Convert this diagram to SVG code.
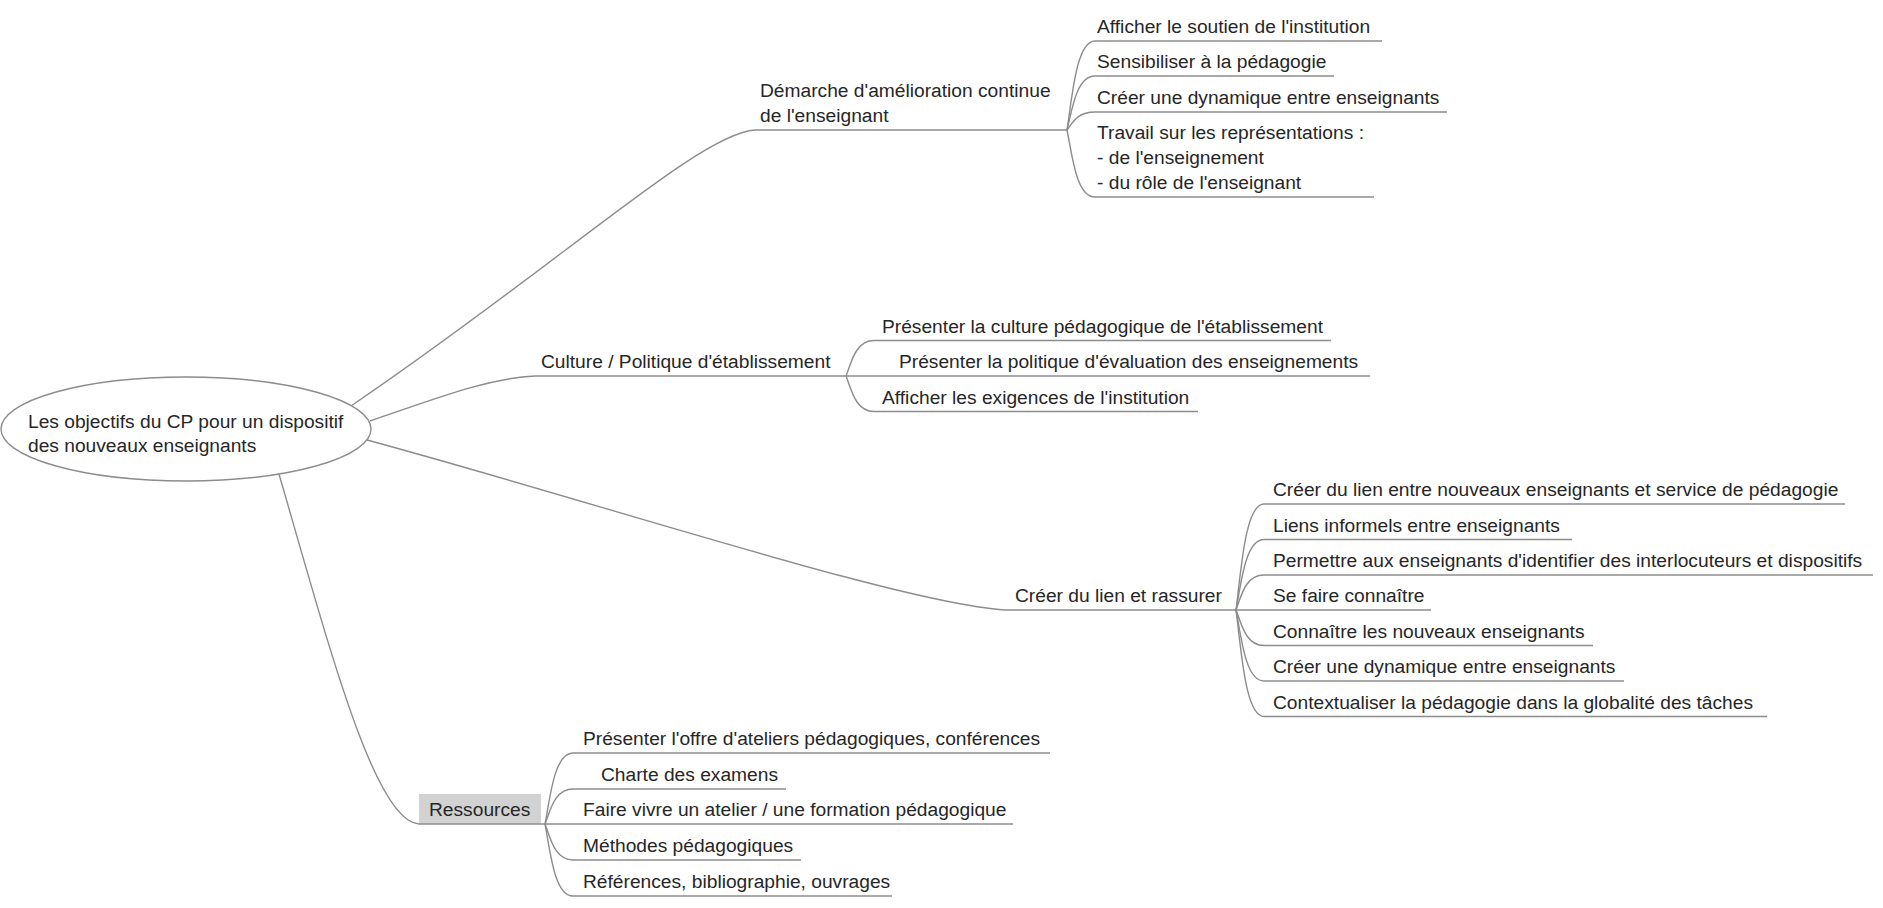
<svg xmlns="http://www.w3.org/2000/svg" width="1883" height="908" viewBox="0 0 1883 908">
<style>
.t{font-family:"Liberation Sans",Arial,sans-serif;font-size:19.2px;fill:#262626}
.c{fill:none;stroke:#8c8c8c;stroke-width:1.4}
.u{stroke:#8c8c8c;stroke-width:1.4}
</style>
<rect width="1883" height="908" fill="#ffffff"/>
<g id="connectors">
<path class="c" d="M351,406 C560,264 700,133 755,130"/>
<path class="c" d="M370,421 C440,397 490,378 535,376"/>
<path class="c" d="M367,440 C600,503 900,603 1005,610"/>
<path class="c" d="M279,474 C330,650 375,822 419,824"/>
<path class="c" d="M1067,130 C1072,99 1076,41 1095,41"/>
<path class="c" d="M1067,130 C1072,111 1076,76 1095,76"/>
<path class="c" d="M1067,130 C1072,124 1076,112 1095,112"/>
<path class="c" d="M1067,130 C1072,154 1076,197 1095,197"/>
<path class="c" d="M846,376 C851,364 855,340.5 874,340.5"/>
<path class="c" d="M846,376 C851,388 855,411.5 874,411.5"/>
<path class="c" d="M1236,610 C1241,572 1245,504 1264,504"/>
<path class="c" d="M1236,610 C1241,585 1245,539.5 1264,539.5"/>
<path class="c" d="M1236,610 C1241,597 1245,575 1264,575"/>
<path class="c" d="M1236,610 C1241,622 1245,645.5 1264,645.5"/>
<path class="c" d="M1236,610 C1241,635 1245,681 1264,681"/>
<path class="c" d="M1236,610 C1241,647 1245,716.5 1264,716.5"/>
<path class="c" d="M545,824 C550,799 554,753 573,753"/>
<path class="c" d="M545,824 C550,812 554,789 573,789"/>
<path class="c" d="M545,824 C550,836 554,860 573,860"/>
<path class="c" d="M545,824 C550,849 554,896 573,896"/>
</g>
<g id="root">
<ellipse cx="186" cy="429" rx="185" ry="52" fill="#ffffff" stroke="#8c8c8c" stroke-width="1.4"/>
<text class="t" x="28" y="428">Les objectifs du CP pour un dispositif</text>
<text class="t" x="28" y="452">des nouveaux enseignants</text>
</g>
<g id="n-demarche">
<line class="u" x1="755" y1="130" x2="1067" y2="130"/>
<text class="t" x="760" y="97">Démarche d'amélioration continue</text>
<text class="t" x="760" y="122">de l'enseignant</text>
</g>
<g id="n-d1"><line class="u" x1="1095" y1="41" x2="1382" y2="41"/><text class="t" x="1097" y="33">Afficher le soutien de l'institution</text></g>
<g id="n-d2"><line class="u" x1="1095" y1="76" x2="1334" y2="76"/><text class="t" x="1097" y="68">Sensibiliser à la pédagogie</text></g>
<g id="n-d3"><line class="u" x1="1095" y1="112" x2="1447" y2="112"/><text class="t" x="1097" y="104">Créer une dynamique entre enseignants</text></g>
<g id="n-d4"><line class="u" x1="1095" y1="197" x2="1374" y2="197"/>
<text class="t" x="1097" y="139">Travail sur les représentations :</text>
<text class="t" x="1097" y="164">- de l'enseignement</text>
<text class="t" x="1097" y="189">- du rôle de l'enseignant</text></g>
<g id="n-culture">
<line class="u" x1="535" y1="376" x2="846" y2="376"/>
<text class="t" x="541" y="368">Culture / Politique d'établissement</text>
</g>
<g id="n-c1"><line class="u" x1="874" y1="340.5" x2="1331" y2="340.5"/><text class="t" x="882" y="332.5">Présenter la culture pédagogique de l'établissement</text></g>
<g id="n-c2"><line class="u" x1="846" y1="376" x2="1370" y2="376"/><text class="t" x="899" y="368">Présenter la politique d'évaluation des enseignements</text></g>
<g id="n-c3"><line class="u" x1="874" y1="411.5" x2="1198" y2="411.5"/><text class="t" x="882" y="403.5">Afficher les exigences de l'institution</text></g>
<g id="n-lien">
<line class="u" x1="1005" y1="610" x2="1236" y2="610"/>
<text class="t" x="1015" y="602">Créer du lien et rassurer</text>
</g>
<g id="n-l1"><line class="u" x1="1264" y1="504" x2="1845" y2="504"/><text class="t" x="1273" y="496">Créer du lien entre nouveaux enseignants et service de pédagogie</text></g>
<g id="n-l2"><line class="u" x1="1264" y1="539.5" x2="1572" y2="539.5"/><text class="t" x="1273" y="531.5">Liens informels entre enseignants</text></g>
<g id="n-l3"><line class="u" x1="1264" y1="575" x2="1873" y2="575"/><text class="t" x="1273" y="567">Permettre aux enseignants d'identifier des interlocuteurs et dispositifs</text></g>
<g id="n-l4"><line class="u" x1="1236" y1="610" x2="1431" y2="610"/><text class="t" x="1273" y="602">Se faire connaître</text></g>
<g id="n-l5"><line class="u" x1="1264" y1="645.5" x2="1593" y2="645.5"/><text class="t" x="1273" y="637.5">Connaître les nouveaux enseignants</text></g>
<g id="n-l6"><line class="u" x1="1264" y1="681" x2="1624" y2="681"/><text class="t" x="1273" y="673">Créer une dynamique entre enseignants</text></g>
<g id="n-l7"><line class="u" x1="1264" y1="716.5" x2="1767" y2="716.5"/><text class="t" x="1273" y="708.5">Contextualiser la pédagogie dans la globalité des tâches</text></g>
<g id="n-ressources">
<rect x="419" y="794" width="122" height="30" fill="#d2d2d2"/>
<line class="u" x1="419" y1="824" x2="545" y2="824"/>
<text class="t" x="429" y="816">Ressources</text>
</g>
<g id="n-r1"><line class="u" x1="573" y1="753" x2="1050" y2="753"/><text class="t" x="583" y="745">Présenter l'offre d'ateliers pédagogiques, conférences</text></g>
<g id="n-r2"><line class="u" x1="573" y1="789" x2="786" y2="789"/><text class="t" x="601" y="781">Charte des examens</text></g>
<g id="n-r3"><line class="u" x1="545" y1="824" x2="1013" y2="824"/><text class="t" x="583" y="816">Faire vivre un atelier / une formation pédagogique</text></g>
<g id="n-r4"><line class="u" x1="573" y1="860" x2="801" y2="860"/><text class="t" x="583" y="852">Méthodes pédagogiques</text></g>
<g id="n-r5"><line class="u" x1="573" y1="896" x2="892" y2="896"/><text class="t" x="583" y="888">Références, bibliographie, ouvrages</text></g>
</svg>
